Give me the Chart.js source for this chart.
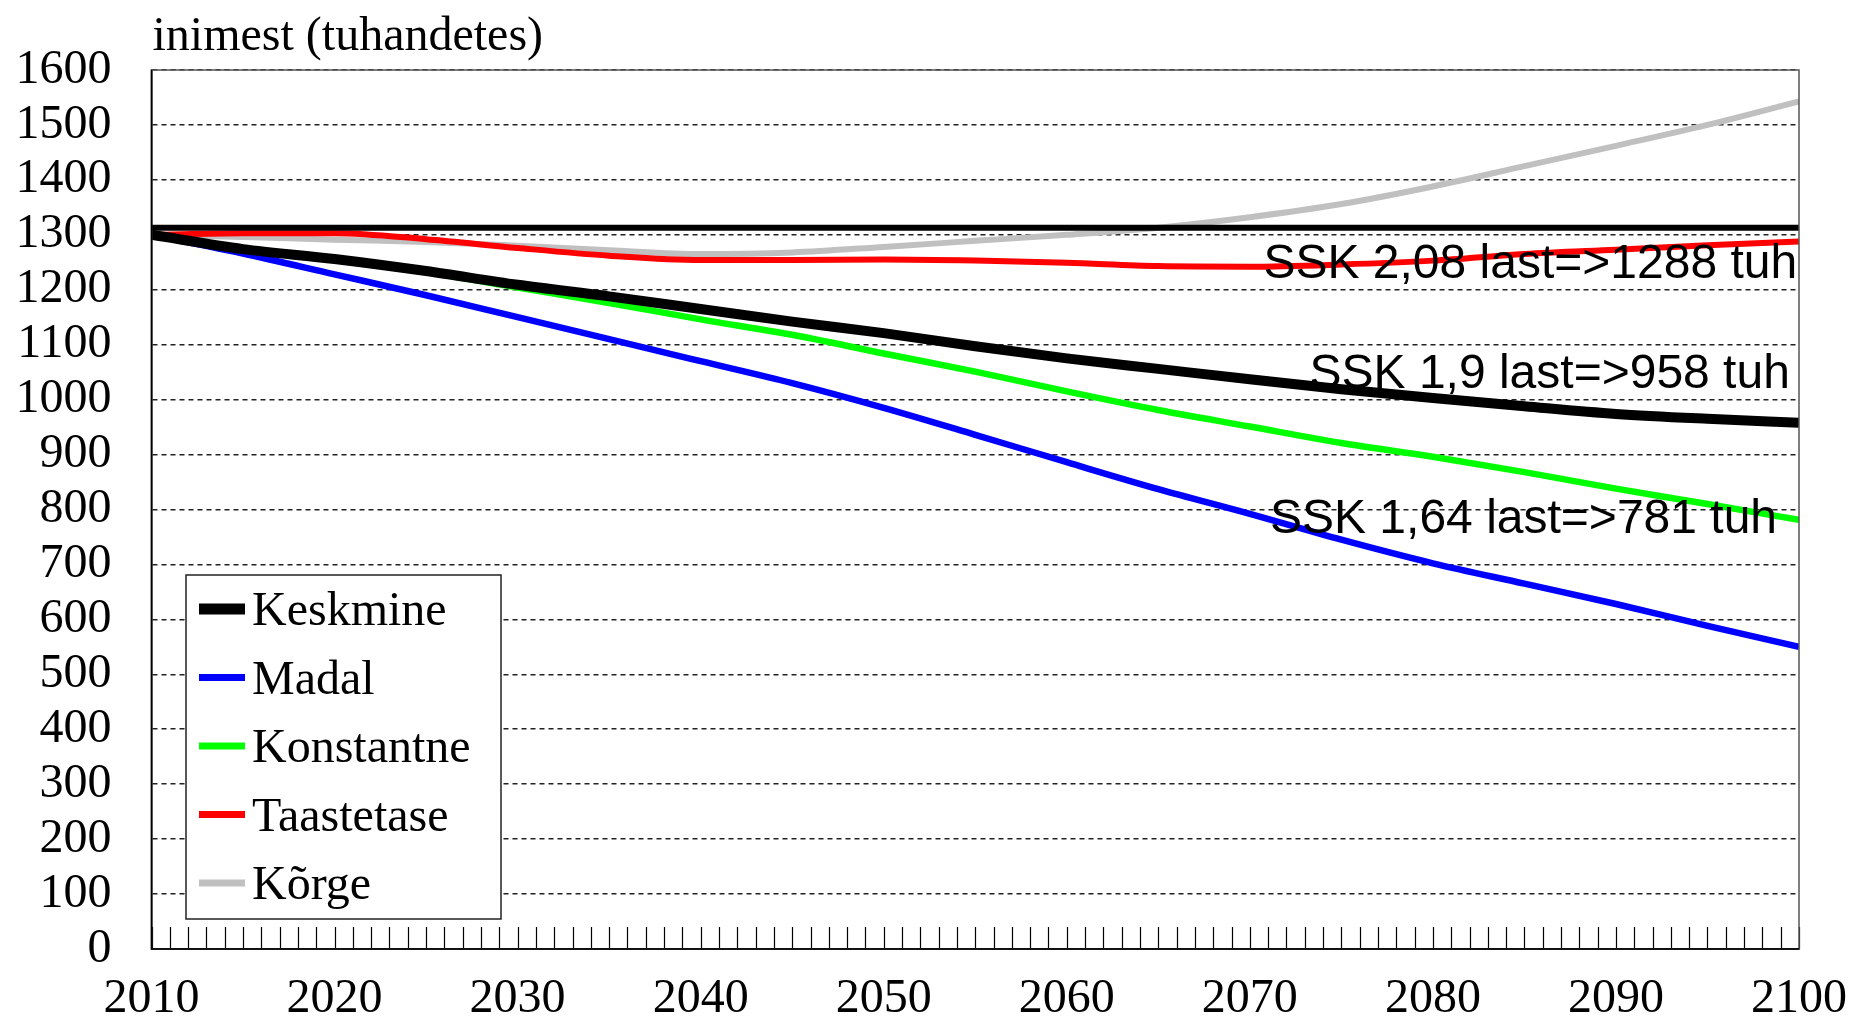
<!DOCTYPE html>
<html>
<head>
<meta charset="utf-8">
<title>Rahvastiku prognoos</title>
<script src="https://cdn.jsdelivr.net/npm/chart.js@4.4.1/dist/chart.umd.min.js"></script>
<style>
    html, body { margin: 0; padding: 0; background: #fff; }
    #wrap { width: 1851px; height: 1020px; }
</style>
</head>
<body>
<div id="wrap"><canvas id="popChart"></canvas></div>
<script>
// Population projection, thousands of people (every 5 years)
const years = [2010, 2015, 2020, 2025, 2030, 2035, 2040, 2045, 2050, 2055,
               2060, 2065, 2070, 2075, 2080, 2085, 2090, 2095, 2100];

const keskmine   = [1300, 1274, 1256, 1234, 1209, 1188, 1165, 1142, 1121, 1097,
                    1075, 1056, 1037, 1019, 1003, 988, 974, 965, 958];
const madal      = [1300, 1266, 1228, 1190, 1150, 1110, 1070, 1030, 985, 936,
                    886, 837, 792, 745, 702, 665, 628, 588, 550];
const konstantne = [1300, 1275, 1256, 1232, 1204, 1176, 1146, 1118, 1084, 1051,
                    1015, 981, 951, 921, 896, 868, 838, 810, 781];
const taastetase = [1300, 1303, 1303, 1292, 1276, 1262, 1254, 1254, 1255, 1253,
                    1249, 1243, 1242, 1246, 1253, 1265, 1273, 1281, 1288];
const korge      = [1300, 1296, 1291, 1287, 1280, 1272, 1265, 1268, 1278, 1289,
                    1300, 1313, 1332, 1356, 1388, 1425, 1462, 1500, 1543];

// present level, drawn as a flat line across the whole range
const refLevel = 1313;

const seriesNames = ['Keskmine', 'Madal', 'Konstantne', 'Taastetase', 'K\u00f5rge'];
const seriesData = [keskmine, madal, konstantne, taastetase, korge];
const seriesColors = ['#000000', '#0000ff', '#00ff00', '#ff0000', '#c0c0c0'];
const seriesWidths = [10, 6.5, 6.5, 6, 6];

const notes = [
    { text: 'SSK 2,08 last=>1288 tuh', year: 2099.9, value: 1222 },
    { text: 'SSK 1,9 last=>958 tuh', year: 2099.5, value: 1021 },
    { text: 'SSK 1,64 last=>781 tuh', year: 2098.8, value: 758 }
];

const toPoints = arr => arr.map((v, i) => ({ x: years[i], y: v }));

const datasets = [{
    label: 'tase',
    data: [{ x: years[0], y: refLevel }, { x: years[years.length - 1], y: refLevel }],
    borderColor: '#000000',
    borderWidth: 6,
    pointRadius: 0
}];
seriesNames.forEach((name, i) => {
    datasets.push({
        label: name,
        data: toPoints(seriesData[i]),
        borderColor: seriesColors[i],
        borderWidth: seriesWidths[i],
        pointRadius: 0,
        cubicInterpolationMode: 'monotone'
    });
});

// Title, inward year ticks, frame, notes and the boxed legend
const extras = {
    id: 'extras',
    afterDatasetsDraw(chart) {
        const { ctx, scales: { x, y } } = chart;
        ctx.save();
        ctx.font = '48px "Liberation Sans"';
        ctx.fillStyle = '#000';
        ctx.textAlign = 'right';
        ctx.textBaseline = 'alphabetic';
        notes.forEach(n => {
            ctx.fillText(n.text, x.getPixelForValue(n.year), y.getPixelForValue(n.value));
        });
        ctx.restore();
    },
    afterDraw(chart) {
        const { ctx, chartArea: a, scales: { x } } = chart;
        ctx.save();

        // small year ticks pointing up from the axis
        ctx.strokeStyle = '#000';
        ctx.lineWidth = 1.2;
        ctx.beginPath();
        x.ticks.forEach(t => {
            const px = Math.round(x.getPixelForValue(t.value)) + 0.5;
            ctx.moveTo(px, a.bottom);
            ctx.lineTo(px, a.bottom - 22);
        });
        ctx.stroke();

        // frame
        ctx.strokeStyle = '#555';
        ctx.lineWidth = 1.5;
        ctx.strokeRect(a.left, a.top, a.right - a.left, a.bottom - a.top);
        ctx.strokeStyle = '#000';
        ctx.beginPath();
        ctx.moveTo(a.left, a.top);
        ctx.lineTo(a.left, a.bottom);
        ctx.lineTo(a.right, a.bottom);
        ctx.stroke();

        // axis title
        ctx.font = '48px "Liberation Serif"';
        ctx.fillStyle = '#000';
        ctx.textAlign = 'left';
        ctx.textBaseline = 'alphabetic';
        ctx.fillText('inimest (tuhandetes)', a.left + 1, 50);

        // legend
        const bx = a.left + 34.5, by = a.top + 505, bw = 315, bh = 344;
        ctx.fillStyle = '#fff';
        ctx.fillRect(bx, by, bw, bh);
        ctx.strokeStyle = '#222';
        ctx.lineWidth = 1.5;
        ctx.strokeRect(bx, by, bw, bh);
        ctx.font = '48px "Liberation Serif"';
        seriesNames.forEach((name, i) => {
            const cy = by + 34 + i * 68.5;
            ctx.strokeStyle = seriesColors[i];
            ctx.lineWidth = i === 0 ? 11 : 7;
            ctx.lineCap = 'butt';
            ctx.beginPath();
            ctx.moveTo(bx + 13, cy);
            ctx.lineTo(bx + 59, cy);
            ctx.stroke();
            ctx.fillStyle = '#000';
            ctx.fillText(name, bx + 66, cy + 16);
        });
        ctx.restore();
    }
};

const ctx = document.getElementById('popChart').getContext('2d');
const popChart = new Chart(ctx, {
    type: 'line',
    data: { datasets: datasets },
    options: {
        responsive: true,
        maintainAspectRatio: false,
        animation: false,
        layout: {
            // tick padding is counted twice in the axis size, so pull it back here
            padding: { left: -24.5, right: 0, top: 70, bottom: -29.6 }
        },
        plugins: {
            legend: { display: false },
            tooltip: { enabled: false }
        },
        scales: {
            x: {
                type: 'linear',
                min: 2010,
                max: 2100,
                ticks: {
                    stepSize: 1,
                    autoSkip: false,
                    maxRotation: 0,
                    padding: 4,
                    color: '#000',
                    // tall line box pushes the year labels down without widening the side padding
                    font: { family: '"Liberation Serif"', size: 48, lineHeight: 1.93 },
                    callback: v => (v % 10 === 0 ? String(v) : '')
                },
                grid: { drawOnChartArea: false, drawTicks: false },
                border: { display: true, color: '#000', width: 1.5 }
            },
            y: {
                min: 0,
                max: 1600,
                ticks: {
                    stepSize: 100,
                    autoSkip: false,
                    padding: 40,
                    color: '#000',
                    font: { family: '"Liberation Serif"', size: 48 },
                    callback: v => String(v)
                },
                grid: { color: '#222', lineWidth: 1.5, drawTicks: false },
                border: { display: true, color: '#000', width: 1.5, dash: [5, 4] }
            }
        }
    },
    plugins: [extras]
});
</script>
</body>
</html>
